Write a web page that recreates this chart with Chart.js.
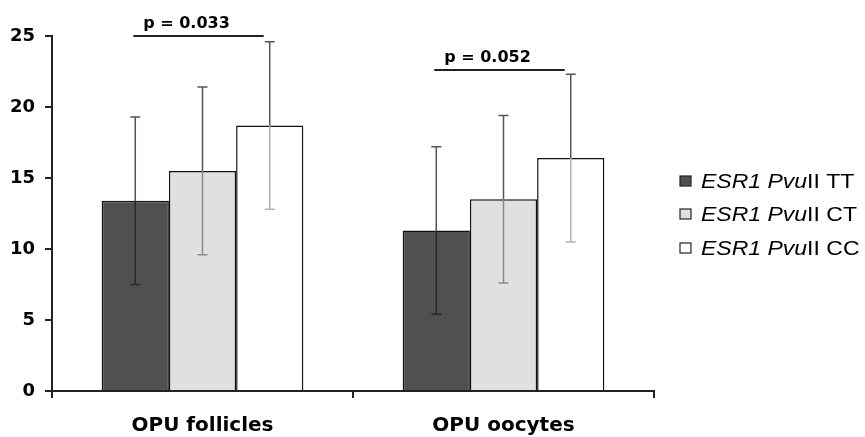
<!DOCTYPE html>
<html>
<head>
<meta charset="utf-8">
<script src="https://cdn.jsdelivr.net/npm/chart.js@4"></script>
<style>
  html, body { margin: 0; padding: 0; background: #fff; }
  #wrap { width: 865px; height: 437px; position: relative; }
</style>
</head>
<body>
<div id="wrap"><canvas id="chart" width="865" height="437"></canvas></div>
<script>
// Data
const categories = ['OPU follicles', 'OPU oocytes'];
const seriesNames = ['TT', 'CT', 'CC'];
const ttMeans = [13.4, 11.3];
const ctMeans = [15.5, 13.5];
const ccMeans = [18.7, 16.4];
const ttSd = [5.9, 5.9];
const ctSd = [5.9, 5.9];
const ccSd = [5.9, 5.9];
const yTicks = [0, 5, 10, 15, 20, 25];
const pLabels = ['p = 0.033', 'p = 0.052'];
const pLevels = [25.0, 22.6];

const fills = ['#505050', '#e0e0e0', '#ffffff'];
const innerErrColors = ['#2a2a2a', '#8a8a8a', '#b0b0b0'];
const sds = [ttSd, ctSd, ccSd];
const FONT = '"DejaVu Sans", Arial, sans-serif';
const LEG_FONT = '"Liberation Sans", Arial, sans-serif';

// error bars, p-value brackets and the legend
const extrasPlugin = {
    id: 'extras',
    afterDatasetsDraw(chart) {
        const ctx = chart.ctx;
        const y = chart.scales.y;
        ctx.save();
        // error bars
        chart.data.datasets.forEach(function (ds, i) {
            const meta = chart.getDatasetMeta(i);
            meta.data.forEach(function (bar, j) {
                const m = ds.data[j];
                const sd = sds[i][j];
                const yTop = y.getPixelForValue(m);
                const yHi = y.getPixelForValue(m + sd);
                const yLo = y.getPixelForValue(m - sd);
                ctx.lineWidth = 1.5;
                // upper part
                ctx.strokeStyle = '#555';
                ctx.beginPath();
                ctx.moveTo(bar.x, yTop);
                ctx.lineTo(bar.x, yHi);
                ctx.moveTo(bar.x - 5, yHi);
                ctx.lineTo(bar.x + 5, yHi);
                ctx.stroke();
                // lower part inside the bar
                ctx.strokeStyle = innerErrColors[i];
                ctx.beginPath();
                ctx.moveTo(bar.x, yTop);
                ctx.lineTo(bar.x, yLo);
                ctx.moveTo(bar.x - 5, yLo);
                ctx.lineTo(bar.x + 5, yLo);
                ctx.stroke();
            });
        });
        // p-value brackets (TT vs CC)
        const first = chart.getDatasetMeta(0).data;
        const last = chart.getDatasetMeta(2).data;
        pLabels.forEach(function (txt, j) {
            const x1 = first[j].x - 2;
            const x2 = last[j].x - 6;
            const py = y.getPixelForValue(pLevels[j]);
            ctx.strokeStyle = '#222';
            ctx.lineWidth = 2;
            ctx.beginPath();
            ctx.moveTo(x1, py);
            ctx.lineTo(x2, py);
            ctx.stroke();
            ctx.fillStyle = '#000';
            ctx.font = 'bold 16px ' + FONT;
            ctx.textAlign = 'center';
            ctx.textBaseline = 'alphabetic';
            ctx.fillText(txt, (x1 + x2) / 2 - 12, py - 8);
        });
        // legend (text stretched a little, like the original)
        const lx = 680;
        const rows = [181, 214, 248];
        const stretch = 1.15;
        seriesNames.forEach(function (name, i) {
            const cy = rows[i];
            ctx.fillStyle = fills[i];
            ctx.fillRect(lx, cy - 5, 11, 10);
            ctx.strokeStyle = '#222';
            ctx.lineWidth = 1.2;
            ctx.strokeRect(lx, cy - 5, 11, 10);
            ctx.save();
            ctx.translate(lx + 21, cy + 1);
            ctx.scale(stretch, 1);
            ctx.fillStyle = '#000';
            ctx.textAlign = 'left';
            ctx.textBaseline = 'middle';
            ctx.font = 'italic 20px ' + LEG_FONT;
            const part1 = 'ESR1 Pvu';
            ctx.fillText(part1, 0, 0);
            const w = ctx.measureText(part1).width;
            ctx.font = '20px ' + LEG_FONT;
            ctx.fillText('II ' + name, w, 0);
            ctx.restore();
        });
        ctx.restore();
    }
};

const ctx = document.getElementById('chart').getContext('2d');
const chart = new Chart(ctx, {
    type: 'bar',
    data: {
        labels: categories,
        datasets: [
            { label: 'ESR1 PvuII TT', data: ttMeans, backgroundColor: fills[0] },
            { label: 'ESR1 PvuII CT', data: ctMeans, backgroundColor: fills[1] },
            { label: 'ESR1 PvuII CC', data: ccMeans, backgroundColor: fills[2] }
        ].map(function (d) {
            return Object.assign(d, {
                borderColor: '#111',
                borderWidth: 1.5,
                barPercentage: 1.0,
                categoryPercentage: 0.67
            });
        })
    },
    options: {
        responsive: false,
        animation: false,
        layout: { padding: { top: 36, right: 211, left: 0, bottom: 0 } },
        plugins: {
            legend: { display: false },
            tooltip: { enabled: false }
        },
        scales: {
            x: {
                grid: { display: true, drawOnChartArea: false, drawTicks: true, tickLength: 7, color: '#222', lineWidth: 2 },
                border: { display: true, color: '#222', width: 2 },
                ticks: {
                    color: '#000',
                    padding: 16,
                    font: { family: FONT, size: 20, weight: 'bold' }
                },
                afterFit: function (axis) { axis.height = 46; }
            },
            y: {
                min: 0,
                max: 25,
                afterBuildTicks: function (axis) {
                    axis.ticks = yTicks.map(function (v) { return { value: v }; });
                },
                grid: { display: true, drawOnChartArea: false, drawTicks: true, tickLength: 7, color: '#222', lineWidth: 2 },
                border: { display: true, color: '#222', width: 2 },
                ticks: {
                    color: '#000',
                    padding: 10,
                    font: { family: FONT, size: 18, weight: 'bold' }
                },
                afterFit: function (axis) { axis.width = 52; }
            }
        }
    },
    plugins: [extrasPlugin]
});
</script>
</body>
</html>
